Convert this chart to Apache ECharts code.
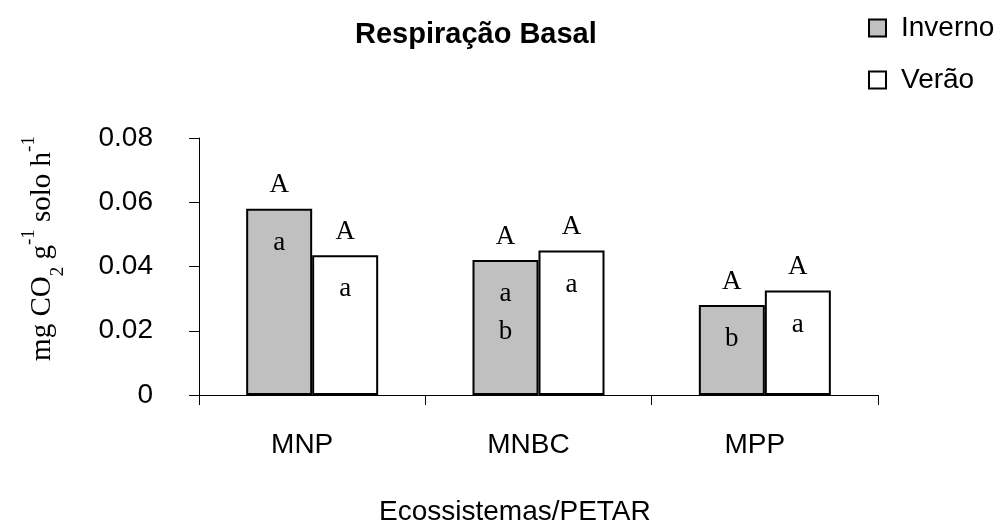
<!DOCTYPE html>
<html>
<head>
<meta charset="utf-8">
<script src="https://cdn.jsdelivr.net/npm/echarts@6/dist/echarts.min.js"></script>
<style>
html,body{margin:0;padding:0;background:#fff;}
#chart{width:1001px;height:527px;}
</style>
</head>
<body>
<div id="chart"></div>
<script>
// ---- data ----
const categories = ['MNP', 'MNBC', 'MPP'];
const seriesNames = ['Inverno', 'Verão'];
const inverno = [0.058, 0.042, 0.028];
const verao = [0.0435, 0.045, 0.0325];
const invernoUpper = ['A', 'A', 'A'];
const veraoUpper = ['A', 'A', 'A'];
const invernoLower = ['a', 'a\nb', 'b'];
const veraoLower = ['a', 'a', 'a'];
const yTicks = [0, 0.02, 0.04, 0.06, 0.08];

// ---- styles ----
const serif = '"Liberation Serif", "Times New Roman", serif';
const sans = '"Liberation Sans", Arial, sans-serif';
const barW = 66;

const chart = echarts.init(document.getElementById('chart'));

function upperLabel(arr) {
  return {
    show: true, position: 'top', distance: 10,
    fontFamily: serif, fontSize: 27, lineHeight: 27, color: '#000',
    formatter: p => arr[p.dataIndex]
  };
}
function lowerLabel(arr) {
  return {
    show: true, position: 'insideTop', distance: 15,
    fontFamily: serif, fontSize: 27, lineHeight: 38, color: '#000',
    formatter: p => arr[p.dataIndex]
  };
}

const option = {
  backgroundColor: '#fff',
  animation: false,
  title: {
    text: 'Respiração Basal',
    left: 350, top: 15,
    textStyle: { fontFamily: sans, fontSize: 29, fontWeight: 'bold', color: '#000' }
  },
  legend: {
    data: seriesNames,
    orient: 'vertical',
    left: 863, top: 9,
    itemWidth: 17, itemHeight: 17,
    itemGap: 24,
    icon: 'rect',
    itemStyle: { borderColor: '#000', borderWidth: 2 },
    textStyle: { fontFamily: sans, fontSize: 28, lineHeight: 28, color: '#000', padding: [0, 0, 0, 10] }
  },
  grid: { left: 199, right: 123, top: 138, bottom: 132, containLabel: false },
  xAxis: [{
    type: 'category',
    data: categories,
    axisLine: { lineStyle: { color: '#000', width: 1 } },
    axisTick: { show: true, length: 10, alignWithLabel: false, lineStyle: { color: '#000' } },
    axisLabel: { fontFamily: sans, fontSize: 28, color: '#000', margin: 36, padding: [0, 20, 0, 0] }
  }, {
    type: 'category',
    data: categories,
    show: false,
    gridIndex: 0
  }],
  yAxis: {
    type: 'value',
    min: 0, max: 0.08, interval: 0.02,
    splitLine: { show: false },
    axisLine: { show: true, lineStyle: { color: '#000', width: 1 } },
    axisTick: { show: true, length: 10, lineStyle: { color: '#000' } },
    axisLabel: {
      fontFamily: sans, fontSize: 28, color: '#000', margin: 46,
      formatter: v => {
        const t = yTicks.find(y => Math.abs(y - v) < 1e-9);
        return t === 0 ? '0' : (t !== undefined ? t.toFixed(2) : '');
      }
    },
    name: '{n|mg CO}{sub|2}{n| g}{sup|-1}{n| solo h}{sup|-1}',
    nameLocation: 'middle',
    nameRotate: 90,
    nameGap: 140,
    nameTextStyle: {
      padding: [0, 0, 0, 36],
      rich: {
        n: { fontFamily: serif, fontSize: 29, color: '#000', lineHeight: 34 },
        sub: { fontFamily: serif, fontSize: 19, color: '#000', verticalAlign: 'bottom', lineHeight: 34, padding: [0, 0, -9, 0] },
        sup: { fontFamily: serif, fontSize: 19, color: '#000', verticalAlign: 'top', lineHeight: 34, padding: [-5, 0, 0, 0] }
      }
    }
  },
  graphic: [{
    type: 'text',
    left: 379, top: 498,
    style: { text: 'Ecossistemas/PETAR', fontFamily: sans, fontSize: 28, fill: '#000' }
  }],
  series: [{
    name: seriesNames[0], type: 'bar', xAxisIndex: 0, data: inverno,
    barWidth: barW, barGap: '0%',
    itemStyle: { color: '#c0c0c0', borderColor: '#000', borderWidth: 2 },
    label: upperLabel(invernoUpper)
  }, {
    name: seriesNames[1], type: 'bar', xAxisIndex: 0, data: verao,
    barWidth: barW, barGap: '0%',
    itemStyle: { color: '#ffffff', borderColor: '#000', borderWidth: 2 },
    label: upperLabel(veraoUpper)
  }, {
    name: 'lowerInv', type: 'bar', xAxisIndex: 1, data: inverno,
    barWidth: barW, barGap: '0%', silent: true,
    itemStyle: { color: 'rgba(0,0,0,0)' },
    label: lowerLabel(invernoLower)
  }, {
    name: 'lowerVer', type: 'bar', xAxisIndex: 1, data: verao,
    barWidth: barW, barGap: '0%', silent: true,
    itemStyle: { color: 'rgba(0,0,0,0)' },
    label: lowerLabel(veraoLower)
  }]
};
chart.setOption(option);
</script>
</body>
</html>
